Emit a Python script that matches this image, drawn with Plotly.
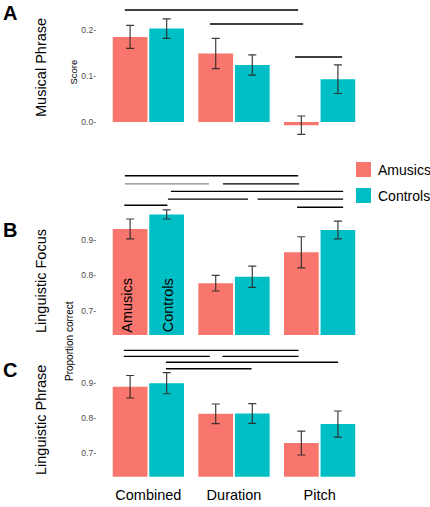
import plotly.graph_objects as go

W, H = 430, 507
FONT = "Liberation Sans, Arial, sans-serif"

categories = ["Combined", "Duration", "Pitch"]
groups = ["Amusics", "Controls"]
colors = {"Amusics": "#F8766D", "Controls": "#00BFC4"}

# Panel A: Musical Phrase (score)
a_amusics = [0.185, 0.149, -0.007]
a_amusics_err = [0.025, 0.033, 0.020]
a_controls = [0.203, 0.124, 0.093]
a_controls_err = [0.021, 0.022, 0.031]

# Panel B: Linguistic Focus (proportion correct)
b_amusics = [0.931, 0.778, 0.865]
b_amusics_err = [0.028, 0.022, 0.044]
b_controls = [0.972, 0.796, 0.928]
b_controls_err = [0.013, 0.030, 0.025]

# Panel C: Linguistic Phrase (proportion correct)
c_amusics = [0.888, 0.811, 0.728]
c_amusics_err = [0.032, 0.028, 0.034]
c_controls = [0.898, 0.812, 0.782]
c_controls_err = [0.030, 0.028, 0.037]

# Significance brackets: (x start, x end, y) in category-index / data units
a_sig = [(-0.275, 1.749, 0.2435), (0.719, 1.807, 0.213), (1.713, 2.263, 0.1413)]
b_sig = [(-0.275, 1.749, 1.081), (0.871, 1.760, 1.058),
         (0.263, 2.275, 1.037), (0.228, 1.164, 1.015), (1.275, 2.275, 1.015),
         (-0.281, 0.222, 0.998), (1.737, 2.275, 0.992)]
b_sig_gray = [(-0.275, 0.708, 1.058)]
c_sig = [(-0.287, 1.754, 0.9915), (-0.287, 0.719, 0.9744), (0.865, 1.754, 0.9744),
         (0.205, 2.216, 0.9574), (0.205, 1.205, 0.9392)]

a_ticks = [0.0, 0.1, 0.2]
bc_ticks = [0.7, 0.8, 0.9]

panels = [
    ("x", "y", a_amusics, a_amusics_err, a_controls, a_controls_err),
    ("x2", "y2", b_amusics, b_amusics_err, b_controls, b_controls_err),
    ("x3", "y3", c_amusics, c_amusics_err, c_controls, c_controls_err),
]

fig = go.Figure()
for xr, yr, am, ame, co, coe in panels:
    for g, vals, errs in (("Amusics", am, ame), ("Controls", co, coe)):
        fig.add_trace(go.Bar(
            x=list(range(len(categories))), y=vals, name=g,
            marker=dict(color=colors[g], line=dict(width=0)),
            error_y=dict(type="data", array=errs, color="rgba(40,40,40,0.9)",
                         thickness=1.2, width=4),
            xaxis=xr, yaxis=yr, showlegend=False,
            offsetgroup=g,
        ))

def px_x(v):
    return v / W

def px_y(v):
    return 1 - v / H

xdom = [px_x(97), px_x(371)]
xcommon = dict(range=[-0.6, 2.6], domain=xdom, showgrid=False, zeroline=False,
               showline=False, tickmode="array", tickvals=list(range(3)),
               ticktext=categories)
ycommon = dict(showgrid=False, zeroline=False, showline=False, ticks="",
               tickfont=dict(size=8.5, color="#4d4d4d", family=FONT))

fig.update_layout(
    width=W, height=H, margin=dict(l=0, r=0, t=0, b=0, autoexpand=False),
    paper_bgcolor="white", plot_bgcolor="white",
    font=dict(family=FONT, color="black"),
    barmode="group", bargap=0.146, bargroupgap=0.05,
    showlegend=False,
    xaxis=dict(xcommon, anchor="y", showticklabels=False),
    xaxis2=dict(xcommon, anchor="y2", showticklabels=False),
    xaxis3=dict(xcommon, anchor="y3", showticklabels=True,
                ticks="outside", ticklen=5, tickcolor="rgba(0,0,0,0)",
                tickfont=dict(size=14.5, color="black", family=FONT)),
    yaxis=dict(ycommon, range=[-0.05, 0.26], domain=[px_y(145), px_y(2.4)],
               anchor="x", tickvals=a_ticks,
               ticktext=[f"{t:.1f}-" for t in a_ticks]),
    yaxis2=dict(ycommon, range=[0.632, 1.10], domain=[px_y(335), px_y(169)],
                anchor="x2", tickvals=bc_ticks,
                ticktext=[f"{t:.1f}-" for t in bc_ticks]),
    yaxis3=dict(ycommon, range=[0.632, 1.02], domain=[px_y(476.8), px_y(340.3)],
                anchor="x3", tickvals=bc_ticks,
                ticktext=[f"{t:.1f}-" for t in bc_ticks]),
)

shapes = []
for (xr, yr, sig, col) in (("x", "y", a_sig, "black"), ("x2", "y2", b_sig, "black"),
                           ("x2", "y2", b_sig_gray, "#8a8a8a"),
                           ("x3", "y3", c_sig, "black")):
    for x0, x1, yv in sig:
        shapes.append(dict(type="line", xref=xr, yref=yr, x0=x0, x1=x1, y0=yv, y1=yv,
                           line=dict(color=col, width=1.4)))

ann = []
# Legend (keys + labels)
for i, g in enumerate(groups):
    top = 162 + 26 * i
    shapes.append(dict(type="rect", xref="paper", yref="paper",
                       x0=px_x(356), x1=px_x(371), y0=px_y(top + 15), y1=px_y(top),
                       fillcolor=colors[g], line=dict(width=0)))
    ann.append(dict(text=g, x=px_x(376), y=px_y(top + 7.5), xref="paper", yref="paper",
                    showarrow=False, xanchor="left", yanchor="middle",
                    font=dict(size=14, family=FONT, color="black")))
fig.update_layout(shapes=shapes)

ann.append(dict(text="<b>A</b>", x=px_x(10), y=1, xref="paper", yref="paper",
                showarrow=False, xanchor="center", yanchor="top",
                font=dict(size=20, family=FONT, color="black")))
for letter, cy in (("B", 230), ("C", 369.5)):
    ann.append(dict(text=f"<b>{letter}</b>", x=px_x(10), y=px_y(cy), xref="paper",
                    yref="paper", showarrow=False, xanchor="center", yanchor="middle",
                    font=dict(size=20, family=FONT, color="black")))
for label, cy in (("Musical Phrase", 68), ("Linguistic Focus", 281),
                  ("Linguistic Phrase", 420)):
    ann.append(dict(text=label, x=px_x(41), y=px_y(cy), xref="paper", yref="paper",
                    showarrow=False, textangle=-90, xanchor="center", yanchor="middle",
                    font=dict(size=14.5, family=FONT, color="black")))
ann.append(dict(text="Score", x=px_x(73), y=px_y(72.5), xref="paper", yref="paper",
                showarrow=False, textangle=-90, xanchor="center", yanchor="middle",
                font=dict(size=9.5, family=FONT, color="black")))
ann.append(dict(text="Proportion correct", x=px_x(69), y=px_y(341), xref="paper",
                yref="paper", showarrow=False, textangle=-90, xanchor="center",
                yanchor="middle", font=dict(size=10, family=FONT, color="black")))
# In-bar group labels (panel B)
for g, xo in (("Amusics", -0.251), ("Controls", 0.222)):
    ann.append(dict(text=g, x=xo, y=0.717, xref="x2", yref="y2", showarrow=False,
                    textangle=-90, xanchor="center", yanchor="middle",
                    font=dict(size=14.5, family=FONT, color="black")))
fig.update_layout(annotations=ann)

fig.write_html("out.html")
